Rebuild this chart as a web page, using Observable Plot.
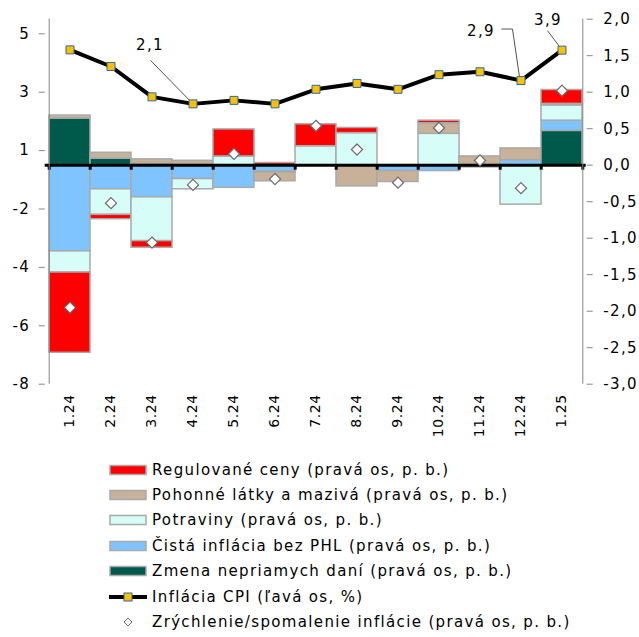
<!DOCTYPE html>
<html><head><meta charset="utf-8">
<script src="https://cdn.jsdelivr.net/npm/d3@7"></script>
<script src="https://cdn.jsdelivr.net/npm/@observablehq/plot@0.6"></script>
<style>
body{margin:0;background:#fff;font-family:"DejaVu Sans",Verdana,sans-serif;color:#000;}
#wrap{position:relative;width:639px;height:637px;}
#chart svg text{letter-spacing:1.4px}
#chart svg .xlab text{letter-spacing:0.6px}
#legend{position:absolute;left:109px;top:457px;}
.row{height:25.4px;display:flex;align-items:center;font-size:15px;letter-spacing:1.35px;white-space:nowrap;}
.row svg{margin-right:5px;flex:none}
</style></head><body><div id="wrap"><div id="chart"></div><div id="legend"></div></div><script>
const months = ["1.24","2.24","3.24","4.24","5.24","6.24","7.24","8.24","9.24","10.24","11.24","12.24","1.25"];
// contributions (right axis, p. b.)
const dane       = [0.64, 0.09, 0.02, 0.00, 0.00, 0.00, 0.00, 0.00, 0.00, 0.00, 0.00, 0.00, 0.47];
const cista      = [-1.18,-0.33,-0.44,-0.19,-0.31,-0.09, 0.00, 0.00,-0.08,-0.08, 0.00, 0.07, 0.14];
const potraviny  = [-0.29,-0.35,-0.60,-0.14, 0.12,-0.01, 0.26, 0.44, 0.00, 0.43,-0.03,-0.54, 0.21];
const phl        = [0.04, 0.08, 0.06, 0.06, 0.00,-0.12, 0.00,-0.29,-0.15, 0.145,0.12, 0.16, 0.02];
const regulovane = [-1.10,-0.06,-0.09, 0.00, 0.37, 0.03, 0.30, 0.07, 0.00, 0.035,0.00, 0.00, 0.19];
const zrychlenie = [-1.95,-0.52,-1.06,-0.27, 0.155,-0.19, 0.54, 0.215,-0.24, 0.51, 0.065,-0.315, 1.02];
// CPI inflation (left axis, %)
const cpi = [3.95, 3.38, 2.34, 2.1, 2.22, 2.1, 2.6, 2.8, 2.6, 3.1, 3.2, 2.9, 3.94];
const cpiLabelMonths = ["4.24","12.24","1.25"];
const cpiLabelTexts = ["2,1","2,9","3,9"];
const rightTicks = [-3,-2.5,-2,-1.5,-1,-0.5,0,0.5,1,1.5,2];
const leftTickValues = [4.5,2.5,0.5,-1.5,-3.5,-5.5,-7.5];
const leftTickLabels = ["5","3","1","-2","-4","-6","-8"];
const seriesNames = ["Zmena nepriamych daní","Čistá inflácia bez PHL","Potraviny","Pohonné látky a mazivá","Regulované ceny"];
const seriesColors = ["#005a4b","#80c4ff","#d6fdf7","#c7b299","#ff0000"];
const legendNames = ["Regulované ceny (pravá os, p. b.)","Pohonné látky a mazivá (pravá os, p. b.)","Potraviny (pravá os, p. b.)","Čistá inflácia bez PHL (pravá os, p. b.)","Zmena nepriamych daní (pravá os, p. b.)","Inflácia CPI (ľavá os, %)","Zrýchlenie/spomalenie inflácie (pravá os, p. b.)"];

const ratio = 2.5; // left axis = ratio * right axis
const W = 639, H = 450;
const mL = 44.7, mR = 53.3, mT = 18.7, mB = H - 383.7;
const bw = (W - mL - mR) / months.length;

const seriesArrays = [dane, cista, potraviny, phl, regulovane];
const rows = [];
months.forEach((m, i) => seriesArrays.forEach((arr, s) => {
  if (arr[i] !== 0) rows.push({month: m, series: seriesNames[s], value: arr[i]});
}));
const cpiRows = months.map((m, i) => ({month: m, cpi: cpi[i]}));
const diaRows = months.map((m, i) => ({month: m, v: zrychlenie[i]}));
const labelRows = cpiLabelMonths.map((m, k) => ({month: m, text: cpiLabelTexts[k], cpi: cpi[months.indexOf(m)]}));
// label text offsets and leader paths (pixels relative to the marker)
const labelStyle = {
  "2,1": {dx: -43, dy: -59, leader: [[-42, -43], [-2, -2]]},
  "2,9": {dx: -40, dy: -49, leader: [[-19, -51], [-8, -51], [-1, -3]]},
  "3,9": {dx: -14, dy: -30, leader: [[-14, -19], [-2, -3]]}
};
const leftMap = new Map(leftTickValues.map((v, i) => [v / ratio, leftTickLabels[i]]));
const fmtR = d => d.toFixed(1).replace(".", ",");

const chart = Plot.plot({
  width: W, height: H, marginLeft: mL, marginRight: mR, marginTop: mT, marginBottom: mB,
  style: {fontFamily: "DejaVu Sans, Verdana, sans-serif", fontSize: "15px", color: "#000", background: "white", overflow: "visible"},
  x: {domain: months, padding: 0, axis: null},
  y: {domain: [-3, 2], axis: null},
  color: {domain: seriesNames, range: seriesColors},
  marks: [
    Plot.barY(rows, Plot.stackY({x: "month", y: "value", z: "series", fill: "series", order: seriesNames, stroke: "#a9a9a9", strokeWidth: 1.5})),
    Plot.ruleY([0], {stroke: "black", strokeWidth: 3}),
    Plot.ruleX(months, {x: d => d, y1: 0, y2: 0, dx: -bw / 2, insetBottom: -5, stroke: "black", strokeWidth: 3}),
    Plot.ruleX([months[months.length - 1]], {x: d => d, y1: 0, y2: 0, dx: bw / 2, insetBottom: -5, stroke: "black", strokeWidth: 3}),
    Plot.ruleX([months[0]], {x: d => d, y1: -3, y2: 2, dx: -bw / 2, stroke: "#868686", strokeWidth: 1}),
    Plot.ruleX([months[months.length - 1]], {x: d => d, y1: -3, y2: 2, dx: bw / 2, stroke: "#868686", strokeWidth: 1}),
    Plot.axisY({anchor: "right", ticks: rightTicks, tickFormat: fmtR, tickSize: 6, tickPadding: 11, stroke: "#868686", label: null}),
    Plot.axisY({anchor: "left", ticks: leftTickValues.map(v => v / ratio), tickFormat: d => leftMap.get(d), tickSize: 6, tickPadding: 9, stroke: "#868686", label: null}),
    Plot.axisX({anchor: "bottom", tickRotate: -90, tickSize: 0, tickPadding: 10, fontSize: 14, className: "xlab", label: null}),
    Plot.line(cpiRows, {x: "month", y: d => d.cpi / ratio, stroke: "black", strokeWidth: 4}),
    Plot.dot(labelRows, {x: "month", y: d => d.cpi / ratio, render: (index, scales, values) => {
      const g = d3.create("svg:g");
      const off = scales.x && scales.x.bandwidth ? scales.x.bandwidth() / 2 : bw / 2;
      for (const i of index) {
        const x = values.x[i] + off, y = values.y[i];
        const st = labelStyle[labelRows[i].text];
        const pts = st.leader.map(([a, b]) => [x + a, y + b]);
        g.append("path").attr("d", d3.line()(pts)).attr("fill", "none").attr("stroke", "#404040").attr("stroke-width", 0.9);
      }
      return g.node();
    }}),
    Plot.dot(cpiRows, {x: "month", y: d => d.cpi / ratio, symbol: "square", r: 4.5, fill: "#ffc000", stroke: "#2a6aa0", strokeWidth: 1}),
    Plot.dot(diaRows, {x: "month", y: "v", symbol: "diamond2", r: 5, fill: "white", stroke: "#6b6b6b", strokeWidth: 1.2}),
    ...labelRows.map(r => Plot.text([r], {x: "month", y: d => d.cpi / ratio, text: "text", dx: labelStyle[r.text].dx, dy: labelStyle[r.text].dy, fontSize: 15, fill: "#000"}))
  ]
});
document.getElementById("chart").appendChild(chart);

// legend
const legend = document.getElementById("legend");
const legendColors = ["#ff0000","#c7b299","#d6fdf7","#80c4ff","#005a4b"];
legendNames.forEach((name, i) => {
  const row = document.createElement("div");
  row.className = "row";
  let sw;
  if (i < 5) {
    sw = `<svg width="38" height="12"><rect x="1" y="1.5" width="36" height="9" fill="${legendColors[i]}" stroke="#a9a9a9" stroke-width="1.5"/></svg>`;
  } else if (i === 5) {
    sw = `<svg width="38" height="12"><line x1="0" x2="38" y1="6" y2="6" stroke="black" stroke-width="4"/><rect x="15" y="2" width="8" height="8" fill="#ffc000" stroke="#2a6aa0" stroke-width="1"/></svg>`;
  } else {
    sw = `<svg width="38" height="12"><path d="M19,2 L23,6 L19,10 L15,6 Z" fill="white" stroke="#6b6b6b" stroke-width="1"/></svg>`;
  }
  row.innerHTML = sw + `<span>${name}</span>`;
  legend.appendChild(row);
});
</script></body></html>
